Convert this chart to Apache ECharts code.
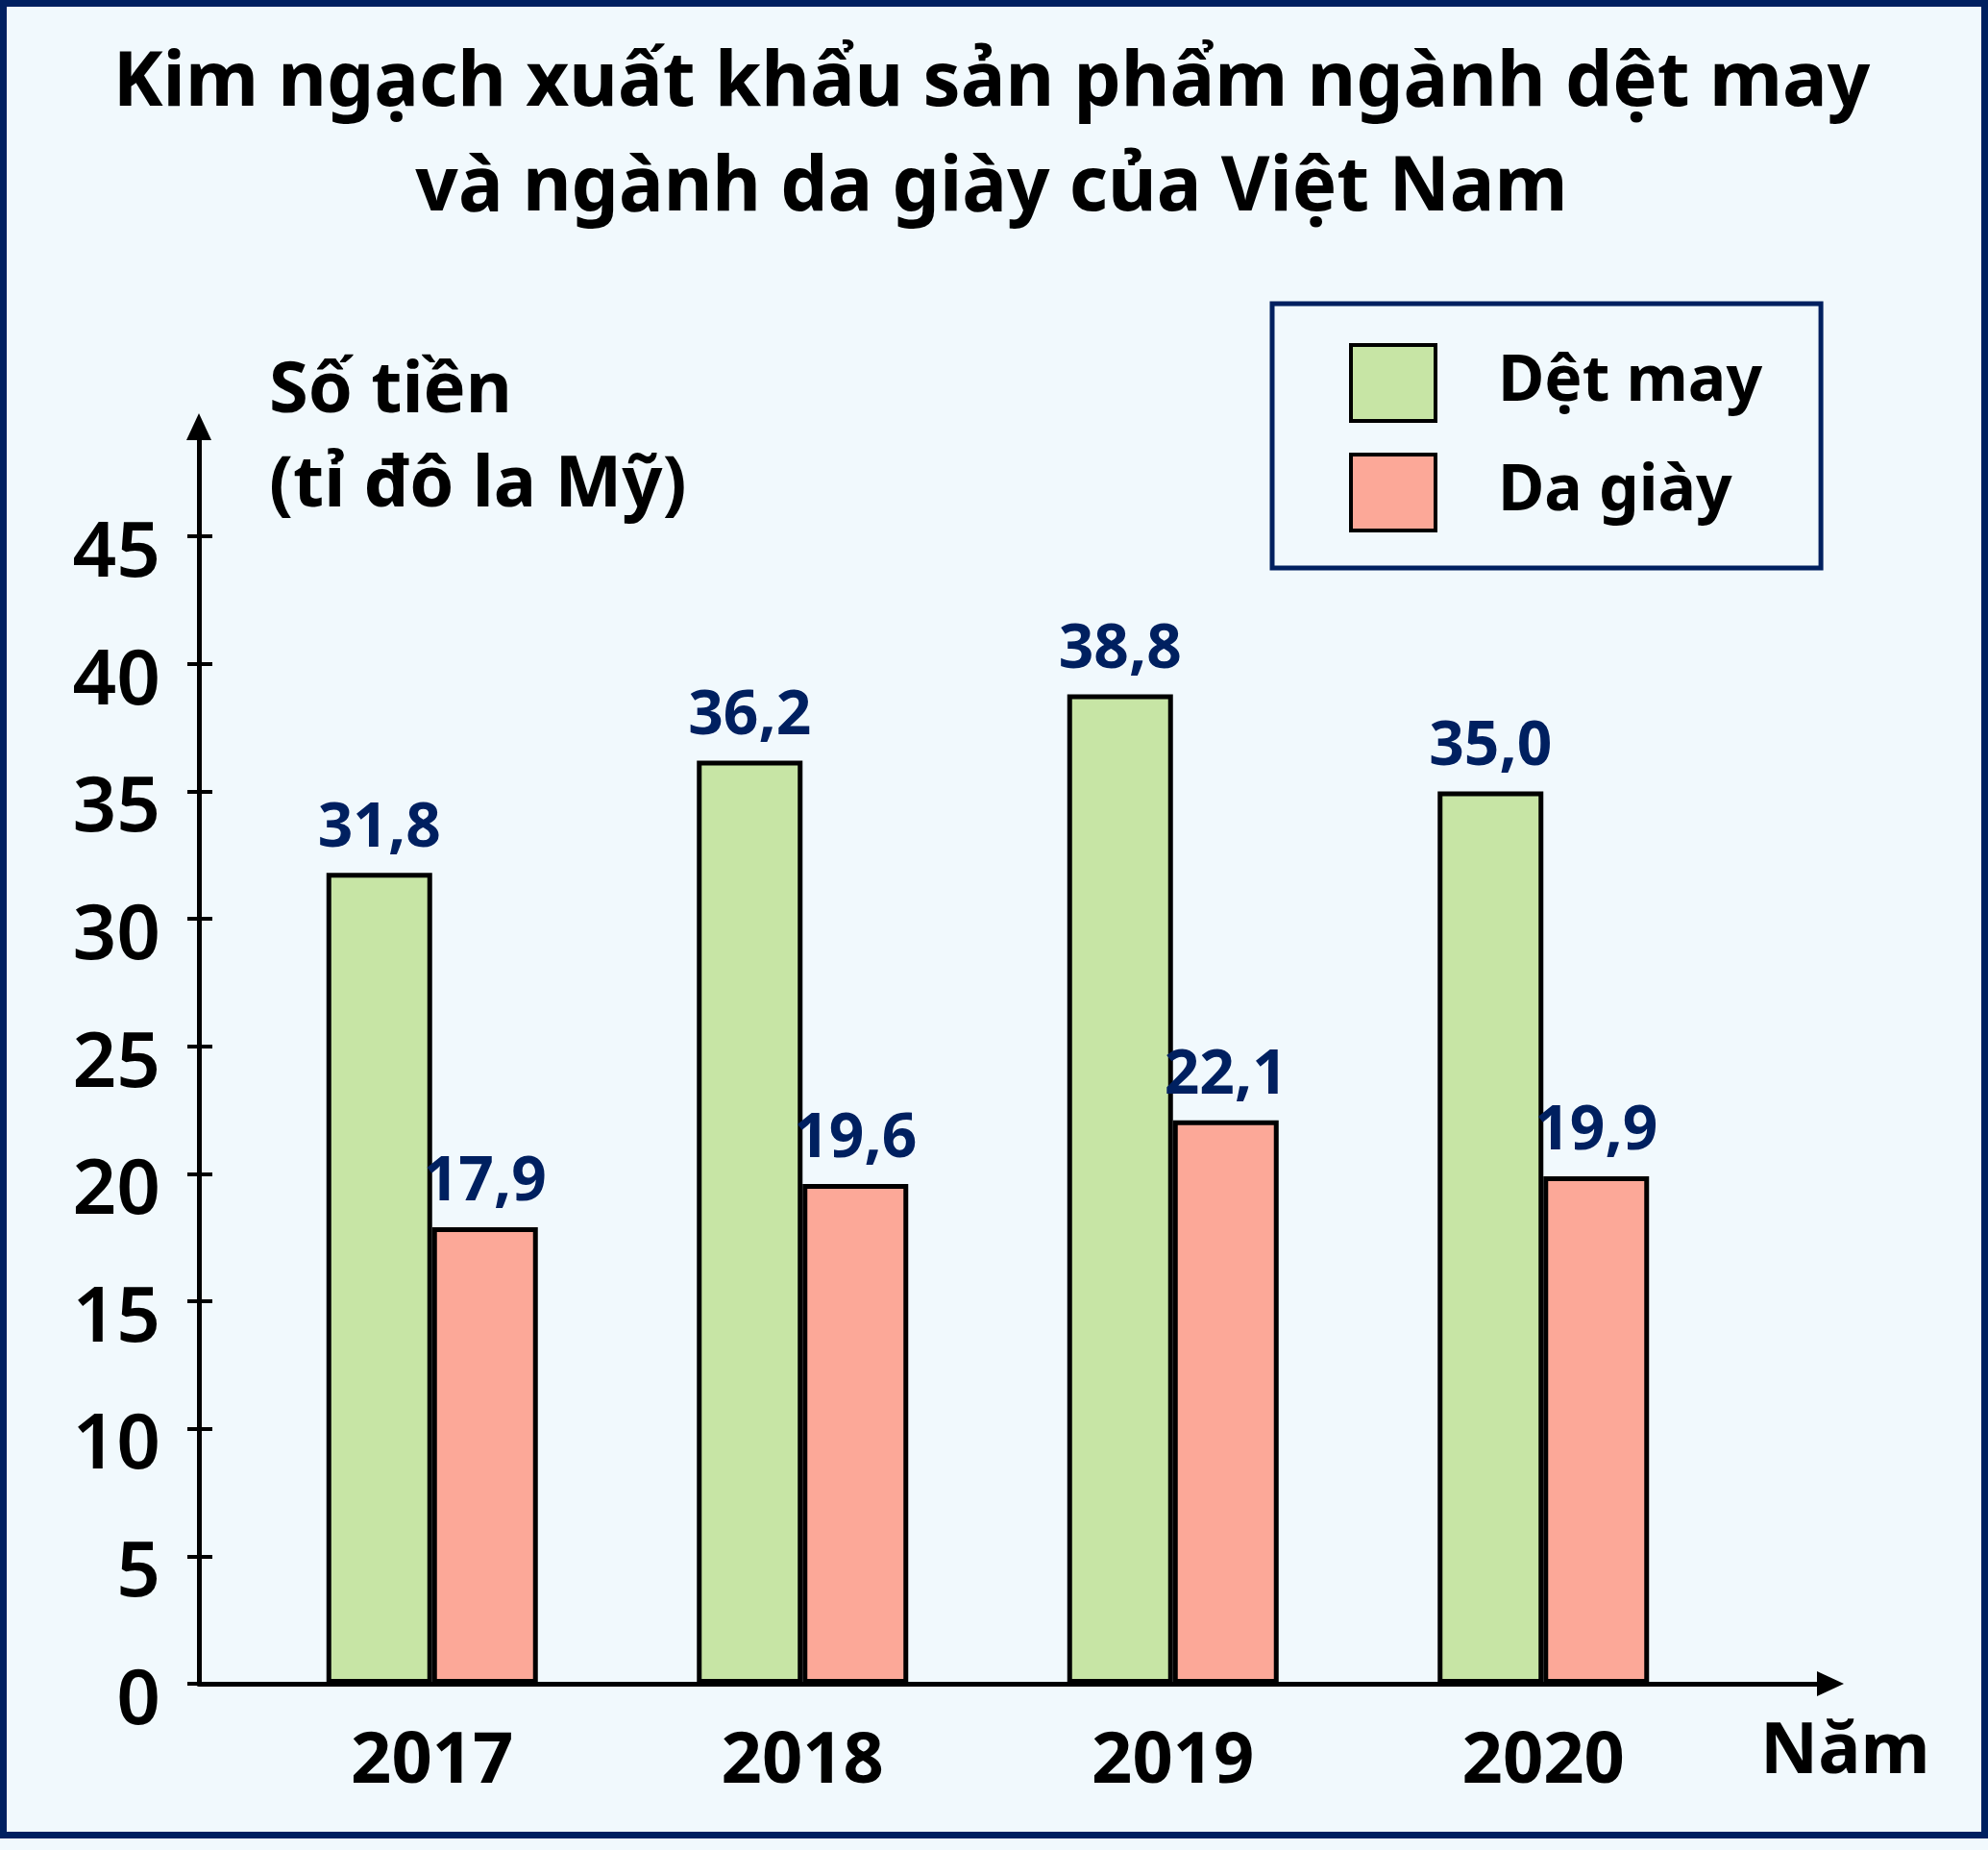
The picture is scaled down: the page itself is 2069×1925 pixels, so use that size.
<!DOCTYPE html>
<html><head><meta charset="utf-8">
<script src="https://cdn.jsdelivr.net/npm/echarts@6/dist/echarts.min.js"></script>
<style>html,body{margin:0;padding:0;background:#f1f9fd;} #c{width:2069px;height:1925px;}</style>
</head><body><div id="c"></div>
<script>
// ---- data ----
const categories = ['2017', '2018', '2019', '2020'];
const detMay = [31.8, 36.2, 38.8, 35.0];
const daGiay = [17.9, 19.6, 22.1, 19.9];
const yTicks = [0, 5, 10, 15, 20, 25, 30, 35, 40, 45];
const seriesNames = ['Dệt may', 'Da giày'];
const titleLines = ['Kim ngạch xuất khẩu sản phẩm ngành dệt may', 'và ngành da giày của Việt Nam'];
const yTitleLines = ['Số tiền', '(tỉ đô la Mỹ)'];
const xTitle = 'Năm';

// ---- style ----
const FONT = '"Noto Sans", sans-serif';
const NAVY = '#002060';
const GREEN = '#c7e5a5';
const RED = '#fca898';
const Y_MAX = 49.3;
const GRID_TOP = 444, GRID_BOTTOM = 173;

function fmt(p) { return Number(p.value).toFixed(1).replace('.', ','); }

const chart = echarts.init(document.getElementById('c'), null, {renderer: 'canvas'});
const barLabel = {
  show: true, position: 'top', distance: 14, formatter: fmt,
  fontFamily: FONT, fontSize: 64, fontWeight: 'bold', color: NAVY
};
chart.setOption({
  animation: false,
  backgroundColor: '#f1f9fd',
  grid: [
    {left: 207, right: 164, top: GRID_TOP, bottom: GRID_BOTTOM},
    {left: 257, right: 270, top: GRID_TOP, bottom: GRID_BOTTOM}
  ],
  xAxis: [
    {
      gridIndex: 0, type: 'value', min: 0, max: 1,
      axisLine: {show: true, onZero: false, symbol: ['none', 'triangle'], symbolSize: [26, 28],
        lineStyle: {color: '#000', width: 5}},
      axisTick: {show: false}, axisLabel: {show: false}, splitLine: {show: false}
    },
    {
      gridIndex: 1, type: 'category', data: categories,
      axisLine: {show: false}, axisTick: {show: false}, splitLine: {show: false},
      axisLabel: {margin: 45, fontFamily: FONT, fontSize: 74, fontWeight: 'bold', color: '#000'}
    }
  ],
  yAxis: [
    {
      gridIndex: 0, type: 'value', min: 0, max: Y_MAX, interval: 5,
      axisLine: {show: true, symbol: ['none', 'triangle'], symbolSize: [26, 28],
        lineStyle: {color: '#000', width: 5}},
      axisTick: {show: true, length: 12, inside: false, customValues: yTicks,
        lineStyle: {color: '#000', width: 4}},
      axisLabel: {show: true, customValues: yTicks, margin: 40, verticalAlign: 'top', lineHeight: 38,
        fontFamily: FONT, fontSize: 80, fontWeight: 600, color: '#000'},
      splitLine: {show: false}
    },
    {
      gridIndex: 0, type: 'value', min: 0, max: Y_MAX, interval: 5, position: 'left',
      axisLine: {show: false},
      axisTick: {show: true, length: 14, inside: true, customValues: yTicks,
        lineStyle: {color: '#000', width: 4}},
      axisLabel: {show: false}, splitLine: {show: false}
    },
    {
      gridIndex: 1, type: 'value', min: 0, max: Y_MAX, interval: 5, show: false,
      splitLine: {show: false}
    }
  ],
  legend: {
    orient: 'vertical', left: 1324, top: 316,
    padding: [41, 61, 37, 80],
    itemWidth: 88, itemHeight: 79, itemGap: 31,
    icon: 'rect',
    borderColor: NAVY, borderWidth: 5,
    itemStyle: {borderColor: '#000', borderWidth: 4},
    textStyle: {fontFamily: FONT, fontSize: 66, fontWeight: 'bold', color: '#000', padding: [0, 0, 0, 60]},
    data: seriesNames
  },
  series: [
    {
      name: seriesNames[0], type: 'bar', xAxisIndex: 1, yAxisIndex: 2, data: detMay,
      barWidth: 110, barGap: '0%',
      itemStyle: {color: GREEN, borderColor: '#000', borderWidth: 5},
      label: barLabel
    },
    {
      name: seriesNames[1], type: 'bar', xAxisIndex: 1, yAxisIndex: 2, data: daGiay,
      barWidth: 110, barGap: '0%',
      itemStyle: {color: RED, borderColor: '#000', borderWidth: 5},
      label: barLabel
    }
  ],
  graphic: [
    {type: 'rect', silent: true, shape: {x: 3.5, y: 3.5, width: 2062, height: 1906},
      style: {fill: 'none', stroke: NAVY, lineWidth: 7}},
    {type: 'text', style: {text: titleLines[0], x: 1032, y: 88, textAlign: 'center', textVerticalAlign: 'middle',
      font: 'bold 78px ' + FONT, fill: '#000'}},
    {type: 'text', style: {text: titleLines[1], x: 1032, y: 197, textAlign: 'center', textVerticalAlign: 'middle',
      font: 'bold 78px ' + FONT, fill: '#000'}},
    {type: 'text', style: {text: yTitleLines[0], x: 280, y: 408, textAlign: 'left', textVerticalAlign: 'middle',
      font: 'bold 74px ' + FONT, fill: '#000'}},
    {type: 'text', style: {text: yTitleLines[1], x: 280, y: 506, textAlign: 'left', textVerticalAlign: 'middle',
      font: 'bold 74px ' + FONT, fill: '#000'}},
    {type: 'text', style: {text: xTitle, x: 1832, y: 1824, textAlign: 'left', textVerticalAlign: 'middle',
      font: 'bold 74px ' + FONT, fill: '#000'}}
  ]
});
</script>
</body></html>
